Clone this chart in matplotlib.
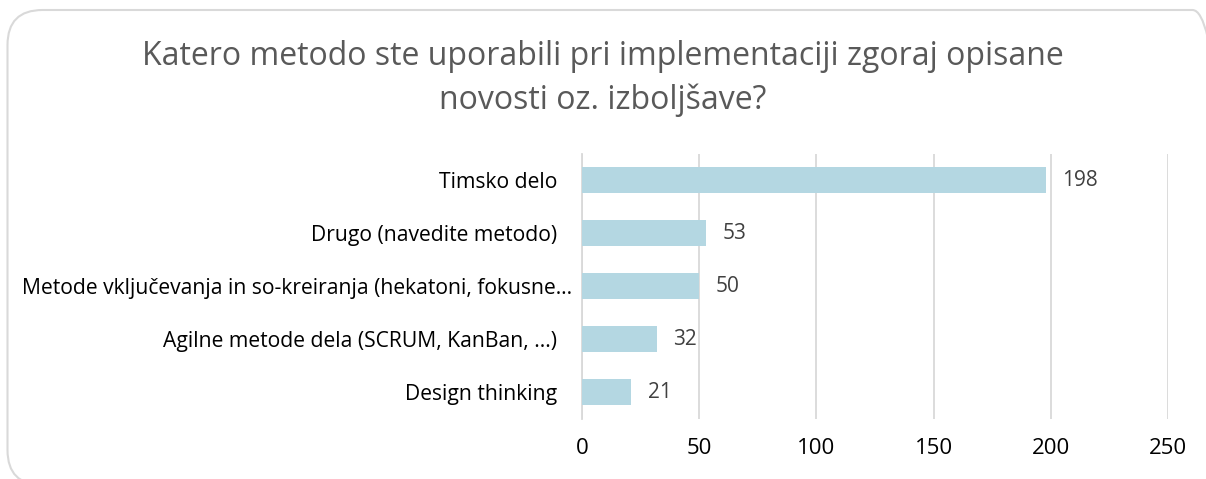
import matplotlib
matplotlib.use("Agg")
import matplotlib.pyplot as plt
import matplotlib.transforms as mtransforms
from matplotlib.patches import FancyBboxPatch

categories = ["Timsko delo", "Drugo (navedite metodo)",
              "Metode vključevanja in so-kreiranja (hekatoni, fokusne…",
              "Agilne metode dela (SCRUM, KanBan, ...)", "Design thinking"]
values = [198, 53, 50, 32, 21]
xticks = [0, 50, 100, 150, 200, 250]
title = "Katero metodo ste uporabili pri implementaciji zgoraj opisane\nnovosti oz. izboljšave?"

plt.rcParams['font.family'] = ['Open Sans', 'DejaVu Sans']

fig = plt.figure(figsize=(12.06, 4.79), dpi=100)
fig.patch.set_facecolor("white")
frame = FancyBboxPatch((0.075, -0.06), 12.2, 4.75, boxstyle="round,pad=0,rounding_size=0.35",
                       transform=fig.dpi_scale_trans, facecolor="none", edgecolor="#D9D9D9",
                       linewidth=1.5, zorder=-5)
fig.patches.append(frame)

ax = fig.add_axes([0.4826, 0.1263, 0.4859, 0.5532])
ax.set_facecolor("none")
y = list(range(len(categories)))
ax.barh(y, values, height=0.5, color="#B4D7E2", zorder=3)
ax.set_ylim(len(categories) - 0.5, -0.5)
ax.set_xlim(0, 250)
ax.set_xticks(xticks)
ax.set_xticklabels([str(t) for t in xticks], fontsize=16, color="#000000")
ax.set_yticks(y)
ax.set_yticklabels(categories, fontsize=15.2, color="#000000")
ax.tick_params(axis="both", length=0)
ax.tick_params(axis="x", pad=14)
ax.tick_params(axis="y", pad=18)
ax.grid(axis="x", color="#D9D9D9", linewidth=1.3, zorder=0)
for s in ["top", "right", "bottom"]:
    ax.spines[s].set_visible(False)
ax.spines["left"].set_color("#D9D9D9")
ax.spines["left"].set_linewidth(1.3)
# truncated label overhangs to the right, as in the original
for lab in ax.get_yticklabels():
    if lab.get_text().endswith("…"):
        lab.set_transform(lab.get_transform() +
                          mtransforms.ScaledTranslation(0.15, 0, fig.dpi_scale_trans))
for yi, v in zip(y, values):
    ax.text(v + 7, yi, str(v), va="center", ha="left", fontsize=15, color="#404040", zorder=4)

fig.text(0.5, 0.756, title, ha="center", va="bottom", fontsize=23, color="#595959",
         linespacing=1.4)

fig.savefig("out.png", dpi=100)
